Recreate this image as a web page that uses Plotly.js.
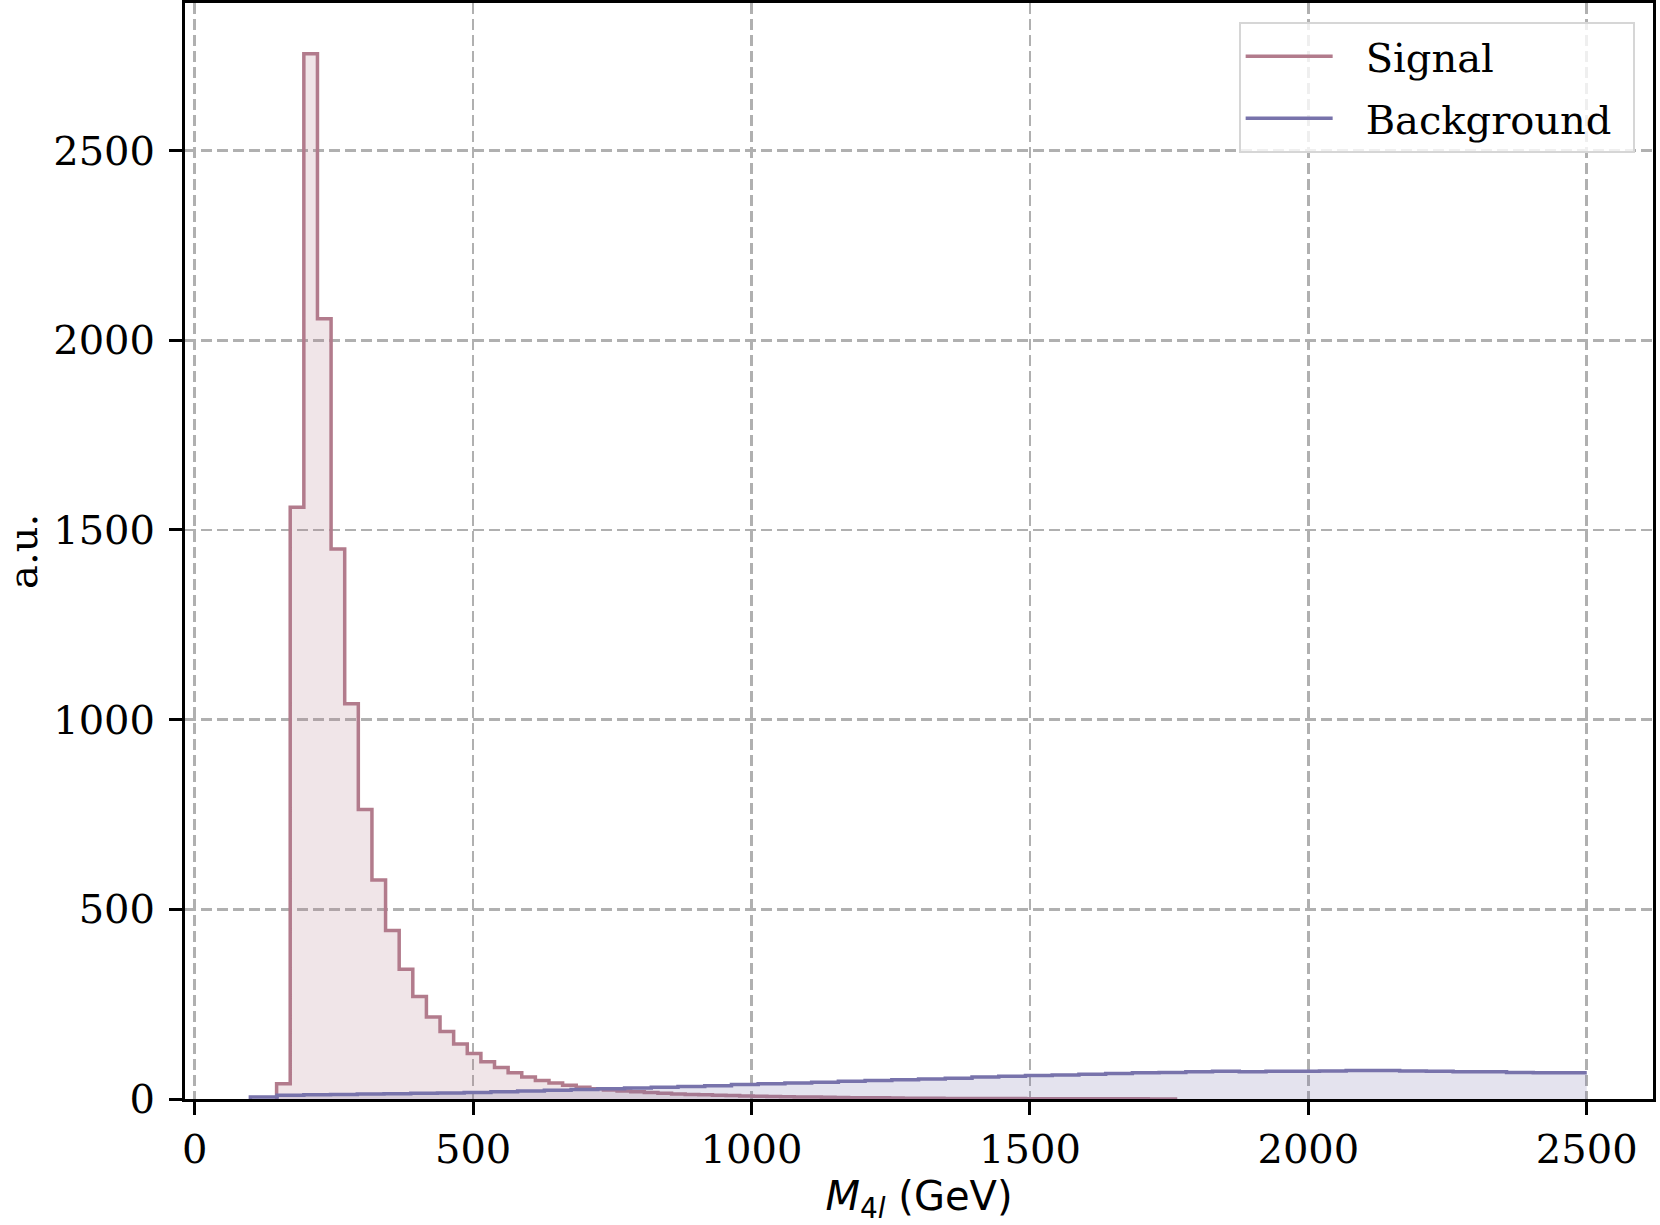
<!DOCTYPE html>
<html>
<head>
<meta charset="utf-8">
<script src="https://cdn.plot.ly/plotly-3.0.1.min.js"></script>
<style>
  html, body { margin: 0; padding: 0; background: #ffffff; }
  #chart { width: 1660px; height: 1225px; }
</style>
</head>
<body>
<div id="chart"></div>
<script>
// ---------------- data ----------------
// Signal histogram: first bin lower edge and bin width (GeV), then bin contents
const signalFirstEdge = 147.1;
const signalBinWidth = 24.46;
const signalCounts = [
  40, 1560, 2755, 2057, 1450, 1042, 763, 577, 444, 342,
  270, 216, 178, 145, 120, 98, 83, 69, 58, 49,
  42, 36, 31, 27, 24, 21, 19, 17, 15, 13,
  12, 11, 10, 9, 8, 7, 6.5, 6, 5.5, 5,
  4.5, 4, 3.5, 3, 3, 2.5, 2, 2, 2, 1.5,
  1.5, 1.2, 1, 1, 1, 0.8, 0.8, 0.7, 0.6, 0.6,
  0.5, 0.5, 0.4, 0.4, 0.3, 0.3
];

// Background histogram: first bin lower edge and bin width (GeV), then bin contents
const bkgFirstEdge = 100;
const bkgBinWidth = 48;
const bkgCounts = [
  5, 10, 11, 12, 13, 14, 15, 16, 17, 19,
  21, 23, 25, 27, 29, 31, 33, 35, 38, 40,
  42, 44, 47, 49, 51, 53, 55, 58, 60, 62,
  63, 65, 67, 69, 70, 72, 73, 72, 73, 73,
  74, 75, 75, 74, 73, 72, 72, 70, 69, 69
];

const seriesNames = ["Signal", "Background"];
const xTickValues = [0, 500, 1000, 1500, 2000, 2500];
const yTickValues = [0, 500, 1000, 1500, 2000, 2500];
const xAxisLabel = "<i>M</i><sub>4<i>l</i></sub> (GeV)";
const yAxisLabel = "a.u.";

// ---------------- helpers ----------------
// Build a step outline (matplotlib-style histogram step) from edges + counts
function stepOutline(firstEdge, width, counts, closeEnd) {
  const xs = [firstEdge], ys = [0];
  for (let i = 0; i < counts.length; i++) {
    xs.push(firstEdge + i * width);
    ys.push(counts[i]);
  }
  const lastEdge = firstEdge + counts.length * width;
  xs.push(lastEdge); ys.push(counts[counts.length - 1]);
  if (closeEnd) { xs.push(lastEdge); ys.push(0); }
  return { x: xs, y: ys };
}

const sigFill = stepOutline(signalFirstEdge, signalBinWidth, signalCounts, true);
const sigLine = stepOutline(signalFirstEdge, signalBinWidth, signalCounts, true);
const bkgFill = stepOutline(bkgFirstEdge, bkgBinWidth, bkgCounts, true);
const bkgLine = stepOutline(bkgFirstEdge, bkgBinWidth, bkgCounts, false);

const sigColor = "#b27b8c";
const bkgColor = "#7873ab";
const legendGap = "\u2002\u2009";
const legendTail = "\u2009\u2009";

const traces = [
  { x: sigFill.x, y: sigFill.y, type: "scatter", mode: "lines",
    line: { shape: "hv", width: 0, color: sigColor },
    fill: "tozeroy", fillcolor: "rgba(178,123,140,0.2)",
    showlegend: false, hoverinfo: "skip", legendgroup: "a" },
  { x: sigLine.x, y: sigLine.y, type: "scatter", mode: "lines",
    name: legendGap + seriesNames[0] + legendTail,
    line: { shape: "hv", width: 3.5, color: sigColor }, legendgroup: "a" },
  { x: bkgFill.x, y: bkgFill.y, type: "scatter", mode: "lines",
    line: { shape: "hv", width: 0, color: bkgColor },
    fill: "tozeroy", fillcolor: "rgba(120,115,171,0.2)",
    showlegend: false, hoverinfo: "skip", legendgroup: "b" },
  { x: bkgLine.x, y: bkgLine.y, type: "scatter", mode: "lines",
    name: legendGap + seriesNames[1] + legendTail,
    line: { shape: "hv", width: 3.5, color: bkgColor }, legendgroup: "b" }
];

const serif = "DejaVu Serif, serif";
const axisCommon = {
  showline: true, mirror: true, linecolor: "#000000", linewidth: 3,
  ticks: "outside", ticklen: 13, tickwidth: 3, tickcolor: "#000000",
  showgrid: true, gridcolor: "#b0b0b0", gridwidth: 2.5, griddash: "11px,5px",
  zeroline: false,
  tickfont: { family: serif, size: 40, color: "#000000" },
  automargin: false
};

const layout = {
  width: 1660, height: 1225,
  paper_bgcolor: "#ffffff", plot_bgcolor: "#ffffff",
  margin: { l: 185, r: 7, t: 3, b: 126, pad: 0 },
  showlegend: true,
  legend: {
    x: 0.9875, y: 0.983, xanchor: "right", yanchor: "top",
    bgcolor: "rgba(255,255,255,0.8)", bordercolor: "#d6d6d6", borderwidth: 2,
    font: { family: serif, size: 40, color: "#000000" },
    itemwidth: 87, tracegroupgap: 7, traceorder: "grouped"
  },
  xaxis: Object.assign({}, axisCommon, {
    range: [-17.4, 2619],
    tickmode: "array", tickvals: xTickValues, ticktext: xTickValues.map(String),
    ticklabelstandoff: 0,
    title: { text: xAxisLabel, standoff: 26,
             font: { family: "DejaVu Sans, sans-serif", size: 40, color: "#000000" } }
  }),
  yaxis: Object.assign({}, axisCommon, {
    range: [0, 2889],
    tickmode: "array", tickvals: yTickValues, ticktext: yTickValues.map(String),
    ticklabelstandoff: 6
  }),
  annotations: [{
    text: yAxisLabel, textangle: -90, showarrow: false,
    xref: "paper", yref: "paper", x: -0.1104, y: 0.5,
    xanchor: "center", yanchor: "middle",
    font: { family: serif, size: 40, color: "#000000" }
  }]
};

Plotly.newPlot("chart", traces, layout, { staticPlot: true, displayModeBar: false });
</script>
</body>
</html>
